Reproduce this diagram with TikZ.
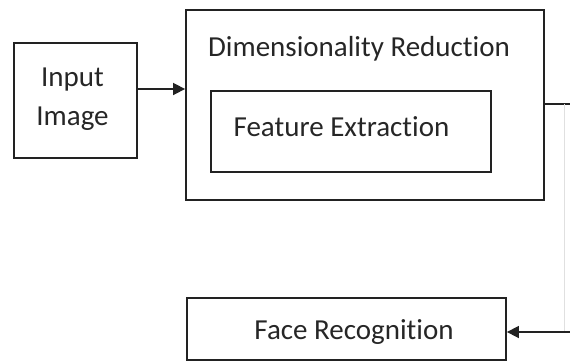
\documentclass[tikz,border=0pt]{standalone}
\usepackage{fontspec}
\setmainfont{Carlito}[Ligatures={NoCommon,NoRare,NoDiscretionary}]
\usetikzlibrary{arrows.meta}
\definecolor{ink}{HTML}{222222}
\definecolor{txt}{HTML}{262626}
\begin{document}
\begin{tikzpicture}[x=1pt,y=-1pt,
  box/.style={draw=ink,line width=1.8pt,rectangle,inner sep=0pt},
  lbl/.style={text=txt,inner sep=0pt,font=\fontsize{29}{39}\selectfont},
  conn/.style={draw=ink,line width=1.6pt},
  arr/.style={conn,-{Triangle[length=12pt,width=12pt]}}]
\useasboundingbox (0,0) rectangle (570,362);
\node[box,minimum width=123pt,minimum height=115pt] (input) at (75.5,100.5) {};
\node[lbl,align=center] (inputlbl) at (72.5,99) {Input\\Image};
\node[box,minimum width=358pt,minimum height=190pt] (dim) at (365,105) {};
\node[lbl] (dimlbl) at (359,49) {Dimensionality Reduction};
\node[box,minimum width=280pt,minimum height=81pt] (feat) at (351,131.5) {};
\node[lbl] (featlbl) at (341.5,127) {Feature Extraction};
\node[box,minimum width=319pt,minimum height=62pt] (face) at (346.5,329) {};
\node[lbl] (facelbl) at (354,332) {Face Recognition};
\coordinate (outtop) at (570,104);
\coordinate (outbot) at (570,332);
\coordinate (vtop) at (564,104);
\coordinate (vbot) at (564,332);
\draw[arr] (input.east |- 0,89) -- (dim.west |- 0,89);
\draw[conn] (dim.east |- outtop) -- (outtop);
\draw[draw=black!12,line width=0.8pt] (vtop) -- (vbot);
\draw[arr] (outbot) -- (face.east |- outbot);
\end{tikzpicture}
\end{document}
